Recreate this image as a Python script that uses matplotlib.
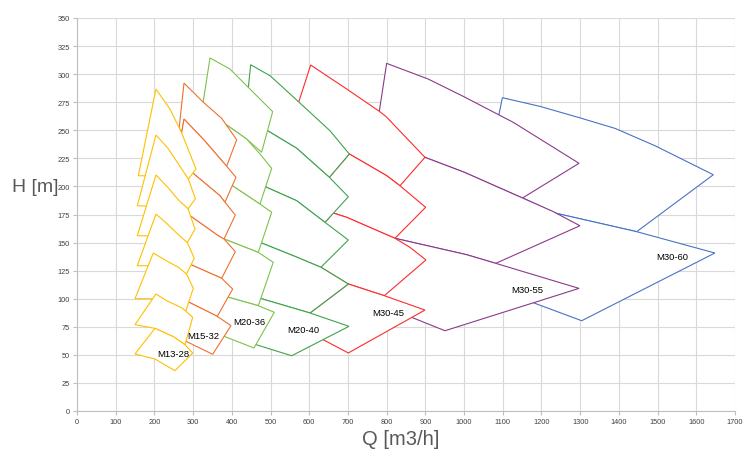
import matplotlib
matplotlib.use("Agg")
import matplotlib.pyplot as plt

plt.rcParams['font.family'] = ['Liberation Sans', 'DejaVu Sans']

# ---------------- data: pump tiles (Q [m3/h], H [m]) ----------------
# each family: list of tiles (top tile first); each tile is the polygon outline
M30_60 = [
    [(1099, 279), (1196, 271.3), (1300, 261), (1390, 251.7), (1493, 236.3), (1644, 210.4),
     (1446, 159.7), (1235, 176.3), (1151, 189.7), (1070, 230)],
    [(1060, 180), (1151, 189.7), (1235, 176.3), (1446, 159.7), (1648, 140.7), (1304, 80.4),
     (1183, 95.9), (1050, 115)],
]
M30_55 = [
    [(800, 309.6), (907.6, 295.6), (998, 280.2), (1127, 257.1), (1297, 220.6), (1151, 189.7),
     (1000.6, 212.6), (899, 225.9), (769, 240)],
    [(800, 230), (899, 225.9), (1000.6, 212.6), (1151, 189.7), (1229, 177.8), (1299.4, 165),
     (1082, 131.5), (1006.7, 139.2), (821.5, 153.8), (770, 165)],
    [(790, 140), (821.5, 153.8), (1006.7, 139.2), (1082, 131.5), (1297, 109.2), (950.7, 71.5),
     (864.6, 83.4), (780, 95)],
]
M30_45 = [
    [(603.7, 308.1), (696.7, 286.8), (781, 266.9), (798, 262.4), (899, 225.9), (834.4, 200.6),
     (800, 209.6), (703.5, 228.9), (554, 255)],
    [(652, 208.1), (703.5, 228.9), (800, 209.6), (834.4, 200.6), (860, 193.2), (900.7, 181.4),
     (821.5, 153.8), (696.7, 172.5), (662, 176.3), (640, 190)],
    [(640.7, 168), (662, 176.3), (696.7, 172.5), (821.5, 153.8), (860, 145.8), (901.6, 134.5),
     (794, 102.7), (701, 113.1), (630.3, 128), (620, 150)],
    [(602, 87.3), (701, 113.1), (794, 102.7), (899, 89.9), (701, 51.7), (636, 63.5), (590, 70)],
]
M20_40 = [
    [(448.7, 308.4), (498.6, 298.6), (523, 291), (597.6, 267.4), (653.6, 249.6), (703.5, 228.9),
     (652, 208.1), (567.5, 234), (492.6, 249.6), (435, 262)],
    [(450, 255), (492.6, 249.6), (567.5, 234), (652, 208.1), (701, 190.8), (640.7, 168),
     (567.5, 187.3), (490, 199.2), (445, 215)],
    [(445, 205), (490, 199.2), (567.5, 187.3), (640.7, 168), (701, 152.3), (630.3, 128),
     (558.8, 138.3), (477, 149.6), (440, 165)],
    [(440, 160), (477, 149.6), (558.8, 138.3), (630.3, 128), (701, 113.1), (602, 87.3),
     (472.7, 100.4), (435, 115)],
    [(435, 110), (472.7, 100.4), (602, 87.3), (702.7, 75.4), (554.6, 49.2), (462.4, 59.1),
     (430, 75)],
]
M20_36 = [
    [(343.6, 314.4), (395, 304.6), (425.5, 294.1), (505.5, 266.6), (477, 230.4), (438.4, 242.2),
     (386.7, 254.7), (320, 262)],
    [(350, 250), (386.7, 254.7), (438.4, 242.2), (472.7, 228.9), (503, 216.1), (472.7, 184.3),
     (401.5, 200.6), (350, 215)],
    [(355, 205), (401.5, 200.6), (472.7, 184.3), (503, 177), (468.4, 141.3), (379.8, 153.2),
     (350, 170)],
    [(350, 165), (379.8, 153.2), (468.4, 141.3), (507, 132.4), (468.4, 93.8), (391, 101.3),
     (350, 110)],
    [(350, 105), (391, 101.3), (468.4, 93.8), (509.8, 87.9), (457.2, 56.1), (382.3, 66.2),
     (350, 80)],
]
M15_32 = [
    [(276.4, 292), (326.3, 275), (373.8, 260.6), (412.5, 241.6), (386.7, 218), (326.3, 242),
     (276.4, 260), (270.4, 247.7), (264, 252.2)],
    [(276.4, 260), (326.3, 242), (386.7, 218), (410.7, 208.1), (382.3, 185.9), (369.4, 191.7),
     (298.9, 212), (262, 222), (270.4, 247.7)],
    [(262, 220), (298.9, 212), (369.4, 191.7), (382.3, 185.9), (409, 174.5), (379.8, 153.2),
     (365, 156.1), (292, 173.9), (262, 182)],
    [(262, 180), (292, 173.9), (365, 156.1), (379.8, 153.2), (409, 141.9), (373.8, 118.2),
     (296.3, 130), (262, 138)],
    [(262, 136), (296.3, 130), (373.8, 118.2), (402.2, 108.6), (362.4, 84.3), (281.6, 98.2),
     (262, 100)],
    [(262, 100), (281.6, 98.2), (362.4, 84.3), (397.8, 76), (350.5, 50.5), (266, 64.7),
     (255, 80)],
]
M13_28 = [
    [(204, 286.7), (240, 269), (270, 248), (307.4, 215.5), (287.6, 206.6), (225, 225),
     (176.2, 209.5), (158.5, 209.5)],
    [(204, 245.8), (235, 234), (262, 220), (287.6, 206.6), (306, 189), (287, 180), (225, 195),
     (178.9, 182.5), (155.8, 182.8)],
    [(204, 210.2), (235, 199), (262, 188), (287, 180), (305, 162), (285, 150), (225, 160),
     (183.7, 156), (155.8, 156.1)],
    [(204, 175.4), (235, 166), (262, 157), (285, 150), (303, 136), (283, 122), (230, 120),
     (183.6, 129.4), (155.8, 129.4)],
    [(197, 140.7), (235, 133), (262, 128), (283, 122), (300.5, 109.2), (281, 89), (230, 92),
     (197.6, 100), (149.8, 100)],
    [(204, 104.2), (231.7, 98.2), (270, 92), (281, 89), (298.9, 83.4), (279, 59), (250, 66),
     (201.5, 73.6), (149.8, 76.9)],
    [(201.5, 73.6), (250, 66), (279, 59), (299, 51.7), (253, 35.9), (201.5, 46.3), (149.8, 50.8)],
]

families = ["M30-60", "M30-55", "M30-45", "M20-40", "M20-36", "M15-32", "M13-28"]
family_tiles = [M30_60, M30_55, M30_45, M20_40, M20_36, M15_32, M13_28]
family_colors = ["#4A72C4", "#8B3A8B", "#FF2A2A", "#3FA34D", "#7DC24B", "#F07030", "#FFC000"]

label_q = [1538, 1162, 804, 585, 445, 326, 249]
label_h = [137.7, 108, 87.3, 72.4, 79.9, 67.1, 51.6]

x_ticks = list(range(0, 1701, 100))
y_ticks = list(range(0, 351, 25))

# ---------------- figure ----------------
W, Hpx = 743, 452
fig = plt.figure(figsize=(W / 100, Hpx / 100), dpi=100)
ax = fig.add_axes([77 / W, 40 / Hpx, 658 / W, 393 / Hpx])
ax.set_xlim(0, 1700)
ax.set_ylim(0, 350)
ax.set_xticks(x_ticks)
ax.set_yticks(y_ticks)
ax.grid(True, color="#D9D9D9", lw=0.8)
ax.set_axisbelow(True)
for s in ["top", "right"]:
    ax.spines[s].set_visible(False)
for s in ["left", "bottom"]:
    ax.spines[s].set_color("#BFBFBF")
    ax.spines[s].set_linewidth(0.8)
ax.tick_params(axis="both", labelsize=5.3, labelcolor="#404040", color="#BFBFBF",
               length=3, width=0.8, pad=2)

z = 2
for tiles, col in zip(family_tiles, family_colors):
    for tile in tiles:
        q = [p[0] for p in tile]
        h = [p[1] for p in tile]
        ax.fill(q, h, facecolor="white", edgecolor=col, lw=0.8, zorder=z, joinstyle="miter")
        z += 1

for name, lq, lh in zip(families, label_q, label_h):
    ax.text(lq, lh, name, ha="center", va="center", fontsize=6.8, color="#000000", zorder=200)

fig.text(35 / W, 1 - 188 / Hpx, "H [m]", ha="center", va="center", fontsize=14, color="#595959")
fig.text(401 / W, 1 - 440 / Hpx, "Q [m3/h]", ha="center", va="center", fontsize=14.5, color="#595959")

fig.savefig("out.png", dpi=100)
